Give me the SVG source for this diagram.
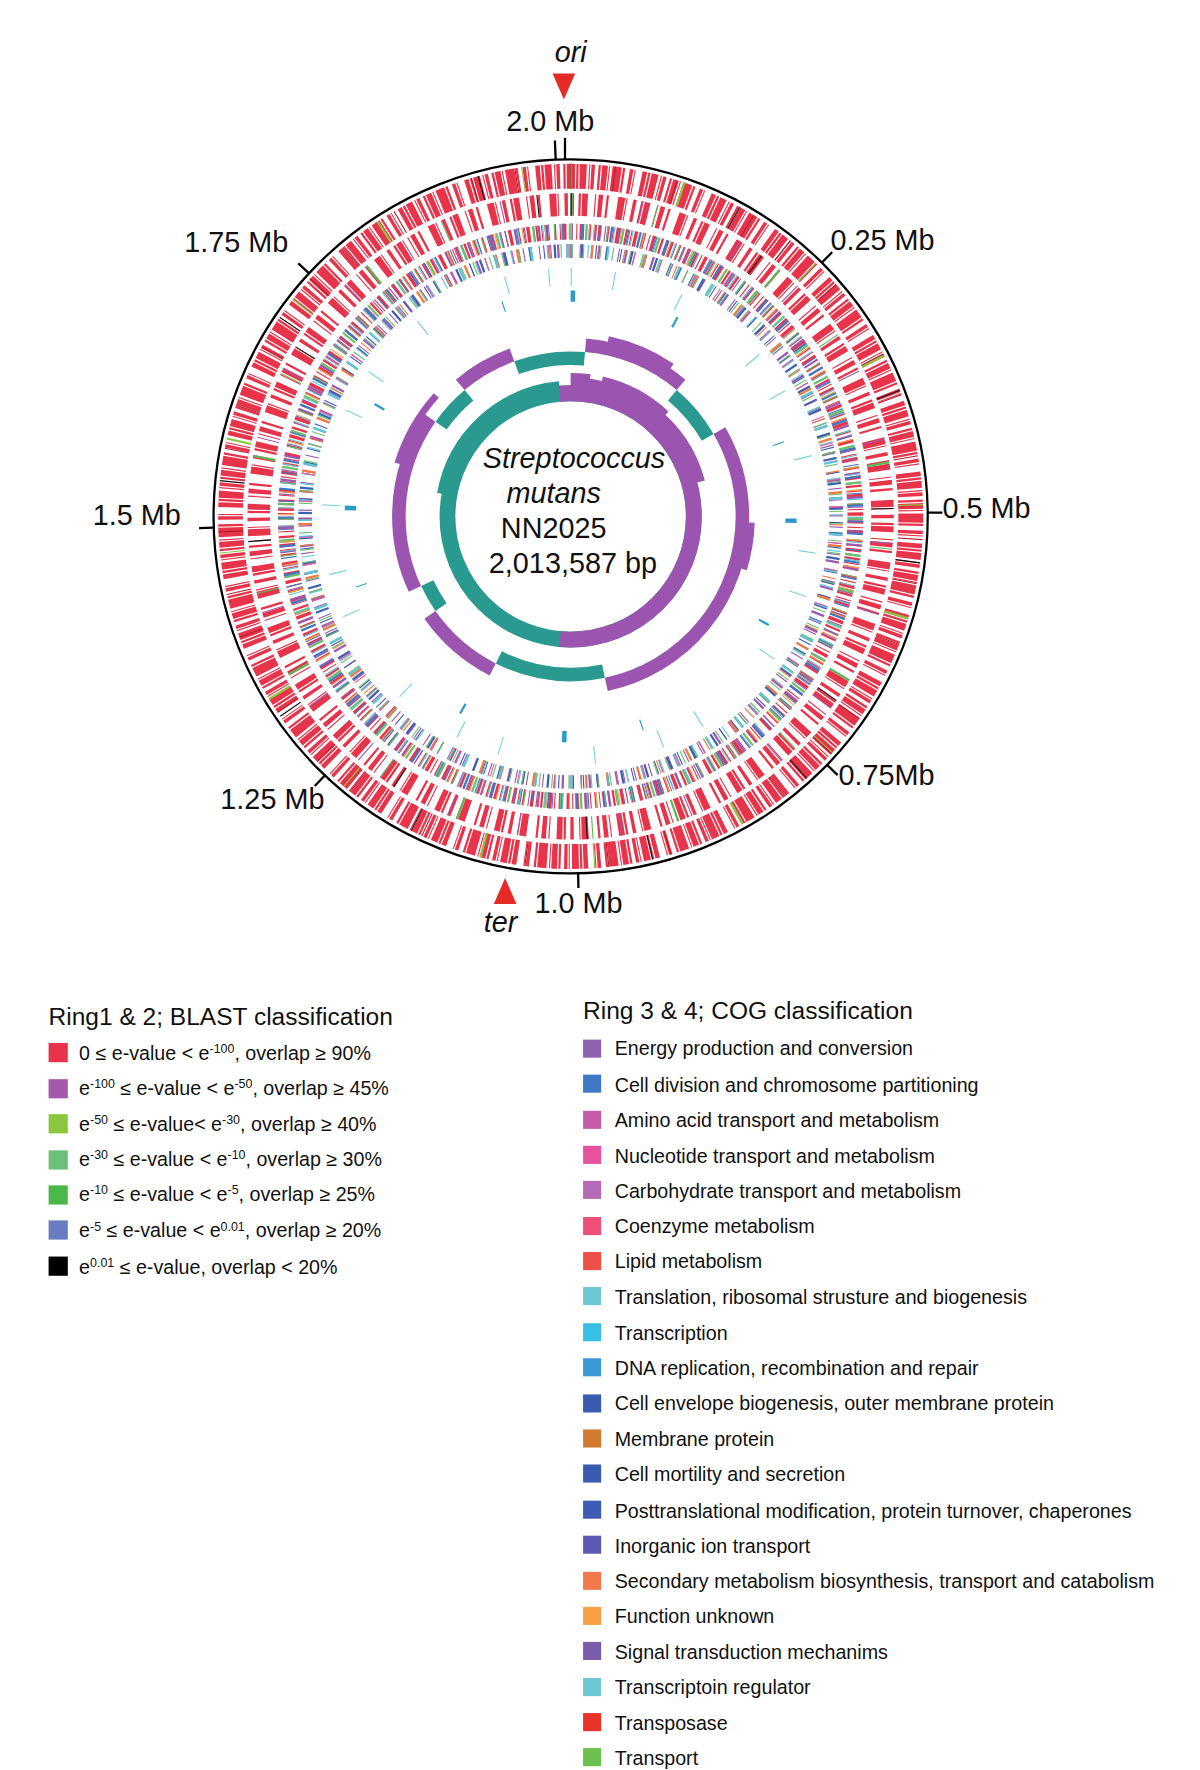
<svg xmlns="http://www.w3.org/2000/svg" width="1200" height="1770" viewBox="0 0 1200 1770">
<style>
text{font-family:"Liberation Sans",Arial,sans-serif;fill:#111}
.lab{font-size:25.5px}
.it{font-style:italic}
.lg{font-size:17.4px}
.hd{font-size:21.7px}
.r{fill:none}
.tick{stroke:#000;stroke-width:2}
.sp{font-size:11px}
</style>
<rect width="1200" height="1770" fill="#fff"/>
<g transform="scale(1.13)">
<g id="map" transform="rotate(-90 505 457)">
<circle cx="505" cy="457" r="316" fill="none" stroke="#000" stroke-width="2"/>
<circle class="r" cx="505" cy="457" r="301" stroke="#e8344a" stroke-width="22" stroke-dasharray="4 1 2 1 6 2 1 1 3 3 2 1 5 1 1 2 8 1 2 4 3 1 1 6"/>
<circle class="r" cx="505" cy="457" r="301" stroke="#b0202f" stroke-width="22" stroke-dasharray="1 37 1 53 1 71"/>
<circle class="r" cx="505" cy="457" r="301" stroke="#111" stroke-width="22" stroke-dasharray="1 149 1 211"/>
<circle class="r" cx="505" cy="457" r="301" stroke="#8cc63f" stroke-width="22" stroke-dasharray="1 97 2 131"/>
<circle class="r" cx="505" cy="457" r="276" stroke="#e8344a" stroke-width="20" stroke-dasharray="3 4 2 1 5 6 1 2 4 3 2 8 6 1 1 5"/>
<circle class="r" cx="505" cy="457" r="276" stroke="#a45aaa" stroke-width="20" stroke-dasharray="1 61 1 89"/>
<circle class="r" cx="505" cy="457" r="276" stroke="#5ab85a" stroke-width="20" stroke-dasharray="2 73 1 117"/>
<circle class="r" cx="505" cy="457" r="276" stroke="#111" stroke-width="20" stroke-dasharray="1 173 1 251"/>
<circle class="r" cx="505" cy="457" r="252" stroke="#e8344a" stroke-width="14" stroke-dasharray="2 3 1 2 3 5"/>
<circle class="r" cx="505" cy="457" r="252" stroke="#9a5ab0" stroke-width="14" stroke-dasharray="2 7 1 11"/>
<circle class="r" cx="505" cy="457" r="252" stroke="#3f78c4" stroke-width="14" stroke-dasharray="1 9 2 13"/>
<circle class="r" cx="505" cy="457" r="252" stroke="#6cc06c" stroke-width="14" stroke-dasharray="1 12 2 17"/>
<circle class="r" cx="505" cy="457" r="252" stroke="#f5a040" stroke-width="14" stroke-dasharray="1 19 1 23"/>
<circle class="r" cx="505" cy="457" r="252" stroke="#5bc8d8" stroke-width="14" stroke-dasharray="1 15 1 21"/>
<circle class="r" cx="505" cy="457" r="235" stroke="#9a5ab0" stroke-width="12" stroke-dasharray="2 6 1 9 1 5"/>
<circle class="r" cx="505" cy="457" r="235" stroke="#3f5fb0" stroke-width="12" stroke-dasharray="1 8 2 11"/>
<circle class="r" cx="505" cy="457" r="235" stroke="#6cc06c" stroke-width="12" stroke-dasharray="1 10 1 14"/>
<circle class="r" cx="505" cy="457" r="235" stroke="#5bc8d8" stroke-width="12" stroke-dasharray="2 13 1 16"/>
<circle class="r" cx="505" cy="457" r="235" stroke="#f07a40" stroke-width="12" stroke-dasharray="1 17 2 27"/>
<circle class="r" cx="505" cy="457" r="235" stroke="#e85aa0" stroke-width="12" stroke-dasharray="1 23 1 31"/>
<circle class="r" cx="505" cy="457" r="212" stroke="#7ed0e0" stroke-width="16" stroke-dasharray="1 37 1 59 1 83"/>
<circle class="r" cx="505" cy="457" r="195" stroke="#2a9ac8" stroke-width="10" stroke-dasharray="4 91 2 143 1 67"/>
</g>
<g id="gc" transform="rotate(-90 505 457)">
<circle class="r" cx="505" cy="457" r="152" pathLength="360" stroke="#9b55b0" stroke-width="12" stroke-dasharray="0 5 35 20 108 39 28 10 60 15 20 20"/>
<circle class="r" cx="505" cy="457" r="160" pathLength="360" stroke="#9b55b0" stroke-width="6" stroke-dasharray="0 12 22 58 15 180 25 48"/>
<circle class="r" cx="505" cy="457" r="140" pathLength="360" stroke="#2a9990" stroke-width="12" stroke-dasharray="5 35 20 108 39 28 10 60 15 20 20"/>
<circle class="r" cx="505" cy="457" r="109" pathLength="360" stroke="#2a9990" stroke-width="14"/>
<circle class="r" cx="505" cy="457" r="109" pathLength="360" stroke="#9b55b0" stroke-width="14" stroke-dasharray="0 355 5"/>
<circle class="r" cx="505" cy="457" r="109" pathLength="360" stroke="#9b55b0" stroke-width="14" stroke-dasharray="185 175"/>
<circle class="r" cx="505" cy="457" r="119" pathLength="360" stroke="#9b55b0" stroke-width="8" stroke-dasharray="75 285"/>
<circle class="r" cx="505" cy="457" r="124" pathLength="360" stroke="#9b55b0" stroke-width="6" stroke-dasharray="8 5 30 317"/>
<circle class="r" cx="505" cy="457" r="117" pathLength="360" stroke="#2a9990" stroke-width="6" stroke-dasharray="0 280 75 5"/>
</g>
<g id="center">
<text class="lab it" x="508" y="414" text-anchor="middle">Streptococcus</text>
<text class="lab it" x="490" y="445" text-anchor="middle">mutans</text>
<text class="lab" x="490" y="476" text-anchor="middle">NN2025</text>
<text class="lab" x="507" y="507" text-anchor="middle">2,013,587 bp</text>
</g>
<g id="ticks">
<line class="tick" x1="500" y1="122" x2="500" y2="141"/>
<line class="tick" x1="505" y1="141" x2="505" y2="124" transform="rotate(-2.4 505 457)"/>
<line class="tick" x1="505" y1="141" x2="505" y2="128" transform="rotate(44.7 505 457)"/>
<line class="tick" x1="505" y1="141" x2="505" y2="128" transform="rotate(89.4 505 457)"/>
<line class="tick" x1="505" y1="141" x2="505" y2="128" transform="rotate(134.1 505 457)"/>
<line class="tick" x1="505" y1="141" x2="505" y2="128" transform="rotate(178.8 505 457)"/>
<line class="tick" x1="505" y1="141" x2="505" y2="128" transform="rotate(223.5 505 457)"/>
<line class="tick" x1="505" y1="141" x2="505" y2="128" transform="rotate(268.2 505 457)"/>
<line class="tick" x1="505" y1="141" x2="505" y2="128" transform="rotate(312.9 505 457)"/>
</g>
<g id="labels">
<text class="lab" x="487" y="116" text-anchor="middle">2.0 Mb</text>
<text class="lab" x="735" y="221">0.25 Mb</text>
<text class="lab" x="834" y="458">0.5 Mb</text>
<text class="lab" x="742" y="695">0.75Mb</text>
<text class="lab" x="473" y="808">1.0 Mb</text>
<text class="lab" x="195" y="716">1.25 Mb</text>
<text class="lab" x="82" y="465">1.5 Mb</text>
<text class="lab" x="163" y="223">1.75 Mb</text>
</g>
<g id="ori"><text class="lab it" x="505" y="55" text-anchor="middle">ori</text><polygon points="489,65 509,65 499,88" fill="#e52b26"/></g>
<g id="ter"><text class="lab it" x="443" y="825" text-anchor="middle">ter</text><polygon points="447,777 437,800 457,800" fill="#e52b26"/></g>
<g id="legend1">
<text class="hd" x="43" y="907">Ring1 &amp; 2; BLAST classification</text>
<rect x="43" y="923" width="17" height="17" fill="#e8344a"/><text class="lg" x="70" y="938">0 ≤ e-value &lt; e<tspan class="sp" dy="-6">-100</tspan><tspan dy="6">, overlap ≥ 90%</tspan></text>
<rect x="43" y="955" width="17" height="17" fill="#a45aaa"/><text class="lg" x="70" y="969">e<tspan class="sp" dy="-6">-100</tspan><tspan dy="6"> ≤ e-value &lt; e</tspan><tspan class="sp" dy="-6">-50</tspan><tspan dy="6">, overlap ≥ 45%</tspan></text>
<rect x="43" y="986" width="17" height="17" fill="#8cc63f"/><text class="lg" x="70" y="1001">e<tspan class="sp" dy="-6">-50</tspan><tspan dy="6"> ≤  e-value&lt; e</tspan><tspan class="sp" dy="-6">-30</tspan><tspan dy="6">, overlap ≥ 40%</tspan></text>
<rect x="43" y="1018" width="17" height="17" fill="#6cc07a"/><text class="lg" x="70" y="1032">e<tspan class="sp" dy="-6">-30</tspan><tspan dy="6"> ≤ e-value &lt; e</tspan><tspan class="sp" dy="-6">-10</tspan><tspan dy="6">, overlap ≥ 30%</tspan></text>
<rect x="43" y="1049" width="17" height="17" fill="#4cb84c"/><text class="lg" x="70" y="1063">e<tspan class="sp" dy="-6">-10</tspan><tspan dy="6"> ≤ e-value &lt; e</tspan><tspan class="sp" dy="-6">-5</tspan><tspan dy="6">, overlap ≥ 25%</tspan></text>
<rect x="43" y="1080" width="17" height="17" fill="#6a7cc0"/><text class="lg" x="70" y="1095">e<tspan class="sp" dy="-6">-5</tspan><tspan dy="6"> ≤ e-value &lt; e</tspan><tspan class="sp" dy="-6">0.01</tspan><tspan dy="6">, overlap ≥ 20%</tspan></text>
<rect x="43" y="1112" width="17" height="17" fill="#000"/><text class="lg" x="70" y="1127">e<tspan class="sp" dy="-6">0.01</tspan><tspan dy="6"> ≤ e-value, overlap &lt; 20%</tspan></text>
</g>
<g id="legend2">
<text class="hd" x="516" y="902">Ring 3 &amp; 4; COG classification</text>
<rect x="516" y="920" width="16" height="16" fill="#8e62ae"/><text class="lg" x="544" y="934">Energy production and conversion</text>
<rect x="516" y="951" width="16" height="16" fill="#3f78c4"/><text class="lg" x="544" y="966">Cell division and chromosome partitioning</text>
<rect x="516" y="983" width="16" height="16" fill="#c45aa8"/><text class="lg" x="544" y="997">Amino acid transport and metabolism</text>
<rect x="516" y="1014" width="16" height="16" fill="#e8529c"/><text class="lg" x="544" y="1029">Nucleotide transport and metabolism</text>
<rect x="516" y="1045" width="16" height="16" fill="#b46ab4"/><text class="lg" x="544" y="1060">Carbohydrate transport and metabolism</text>
<rect x="516" y="1077" width="16" height="16" fill="#ee5078"/><text class="lg" x="544" y="1091">Coenzyme metabolism</text>
<rect x="516" y="1108" width="16" height="16" fill="#ee5048"/><text class="lg" x="544" y="1122">Lipid metabolism</text>
<rect x="516" y="1139" width="16" height="16" fill="#6ac8d4"/><text class="lg" x="544" y="1154">Translation, ribosomal strusture and biogenesis</text>
<rect x="516" y="1171" width="16" height="16" fill="#38c0e4"/><text class="lg" x="544" y="1186">Transcription</text>
<rect x="516" y="1202" width="16" height="16" fill="#3a9ad8"/><text class="lg" x="544" y="1217">DNA replication, recombination and repair</text>
<rect x="516" y="1234" width="16" height="16" fill="#3a5cb0"/><text class="lg" x="544" y="1248">Cell envelope biogenesis, outer membrane protein</text>
<rect x="516" y="1265" width="16" height="16" fill="#d27a30"/><text class="lg" x="544" y="1280">Membrane protein</text>
<rect x="516" y="1296" width="16" height="16" fill="#3a5cb0"/><text class="lg" x="544" y="1311">Cell mortility and secretion</text>
<rect x="516" y="1328" width="16" height="16" fill="#3f5cb4"/><text class="lg" x="544" y="1343">Posttranslational modification, protein turnover, chaperones</text>
<rect x="516" y="1359" width="16" height="16" fill="#5a5cb4"/><text class="lg" x="544" y="1374">Inorganic ion transport</text>
<rect x="516" y="1391" width="16" height="16" fill="#f07a4c"/><text class="lg" x="544" y="1405">Secondary metabolism biosynthesis, transport and catabolism</text>
<rect x="516" y="1422" width="16" height="16" fill="#f7a044"/><text class="lg" x="544" y="1436">Function unknown</text>
<rect x="516" y="1453" width="16" height="16" fill="#7a5cac"/><text class="lg" x="544" y="1468">Signal transduction mechanims</text>
<rect x="516" y="1485" width="16" height="16" fill="#6ac8d4"/><text class="lg" x="544" y="1499">Transcriptoin regulator</text>
<rect x="516" y="1516" width="16" height="16" fill="#e8342a"/><text class="lg" x="544" y="1531">Transposase</text>
<rect x="516" y="1547" width="16" height="16" fill="#6cc04c"/><text class="lg" x="544" y="1562">Transport</text>
</g>
</g>
</svg>
